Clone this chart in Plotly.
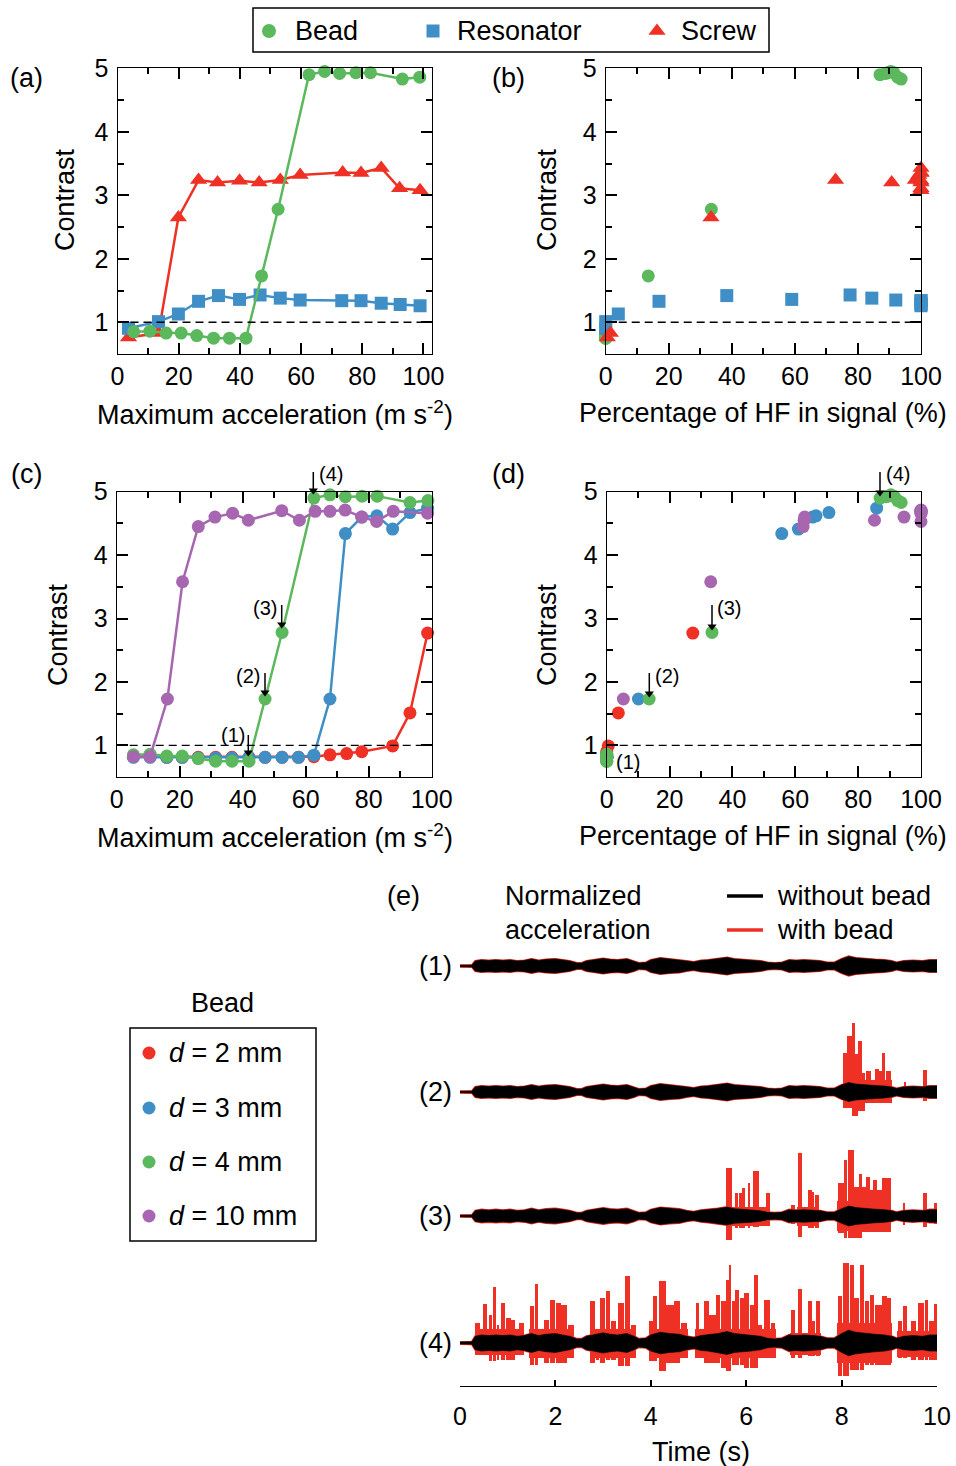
import plotly.graph_objects as go

W, H = 956, 1466
GREEN = "#5cb85c"
BLUE = "#3f8fc6"
RED = "#ee3124"
PURPLE = "#a667b0"
FONT = "Liberation Sans, Arial, Helvetica, sans-serif"

# ---------------- data: panels (a) and (b) ----------------
accel_bead = [5.3, 10.6, 15.9, 20.8, 25.9, 31.4, 36.6, 42.0, 47.1, 52.5, 62.6, 67.7, 72.6, 77.9, 82.7, 93.1, 98.8]
contrast_bead = [0.85, 0.86, 0.83, 0.83, 0.79, 0.75, 0.75, 0.75, 1.73, 2.78, 4.90, 4.95, 4.92, 4.93, 4.93, 4.83, 4.86]
hf_bead = [0, 0, 0, 0, 0, 0, 0, 0, 13.5, 33.5, 87.0, 90.4, 88.8, 89.5, 91.4, 93.7, 92.6]

accel_res = [3.6, 13.4, 19.9, 26.5, 33.0, 39.9, 46.6, 53.2, 59.7, 73.3, 79.6, 86.2, 92.4, 98.9]
contrast_res = [0.905, 1.01, 1.13, 1.33, 1.42, 1.36, 1.43, 1.38, 1.35, 1.34, 1.34, 1.30, 1.28, 1.26]
hf_res = [0, 0, 4.0, 16.9, 38.4, 59.0, 77.5, 84.4, 92.0, 100, 100, 100, 100, 100]

accel_screw = [3.6, 13.4, 19.9, 26.5, 32.7, 39.9, 46.3, 53.2, 59.7, 73.6, 79.6, 86.2, 92.2, 98.9]
contrast_screw = [0.76, 0.83, 2.65, 3.24, 3.20, 3.23, 3.20, 3.24, 3.32, 3.36, 3.35, 3.43, 3.11, 3.08]
hf_screw = [0.5, 1.5, 33.4, 72.9, 90.7, 100, 100, 98.2, 99.3, 100, 100, 100, 100, 100]

# ---------------- data: panels (c) and (d) ----------------
accel_d2 = [5.3, 10.6, 15.9, 20.8, 25.9, 31.4, 36.6, 42.0, 47.1, 52.5, 57.7, 62.6, 67.7, 73.0, 77.8, 87.6, 93.1, 98.7]
contrast_d2 = [0.82, 0.82, 0.81, 0.81, 0.81, 0.81, 0.81, 0.81, 0.81, 0.81, 0.81, 0.82, 0.85, 0.87, 0.90, 0.99, 1.51, 2.77]
hf_d2 = [0, 0, 0, 0, 0, 0, 0, 0, 0, 0, 0, 0, 0, 0, 0, 0.5, 3.7, 27.4]

accel_d3 = [5.3, 10.6, 15.9, 20.8, 25.9, 31.4, 36.6, 42.0, 47.1, 52.5, 57.7, 62.6, 67.7, 72.6, 77.8, 82.6, 87.6, 93.1, 98.7]
contrast_d3 = [0.81, 0.81, 0.81, 0.81, 0.80, 0.80, 0.80, 0.81, 0.81, 0.81, 0.81, 0.845, 1.73, 4.34, 4.60, 4.62, 4.41, 4.67, 4.74]
hf_d3 = [0, 0, 0, 0, 0, 0, 0, 0, 0, 0, 0, 0, 10.1, 55.7, 65.5, 66.6, 61.0, 70.7, 85.9]

accel_d10 = [5.3, 10.6, 16.1, 20.9, 25.9, 31.2, 36.8, 41.8, 52.4, 58.0, 63.0, 67.7, 72.5, 77.8, 82.5, 87.8, 98.7]
contrast_d10 = [0.82, 0.82, 1.73, 3.58, 4.45, 4.60, 4.66, 4.55, 4.70, 4.55, 4.69, 4.69, 4.71, 4.60, 4.53, 4.69, 4.66]
hf_d10 = [0, 0, 5.3, 33.1, 62.5, 63.0, 100, 62.8, 100, 85.2, 100, 100, 100, 94.6, 100, 100, 100]

# ---------------- data: panel (e) (envelopes) ----------------
# black (without bead) half-envelope, row (1) units
env_t = [0, 0.25, 0.32, 0.45, 0.6, 0.75, 0.9, 1.05, 1.2, 1.35, 1.5, 1.65, 1.8, 2.0, 2.15, 2.3, 2.45, 2.55,
         2.65, 2.8, 3.0, 3.15, 3.3, 3.5, 3.65, 3.75, 3.9, 4.0, 4.2, 4.4, 4.6, 4.75, 4.9, 5.05, 5.2, 5.4,
         5.6, 5.75, 5.9, 6.1, 6.3, 6.45, 6.6, 6.75, 6.9, 7.05, 7.2, 7.4, 7.55, 7.7, 7.85, 8.0, 8.15, 8.3,
         8.5, 8.7, 8.9, 9.05, 9.15, 9.3, 9.5, 9.7, 9.85, 10.0]
env_amp = [0.7, 0.9, 5, 6, 5.5, 6, 5.5, 6, 5, 5.5, 7, 5.5, 6.5, 7, 6, 5, 3, 3,
           5, 6, 7.5, 6.5, 6, 7, 5, 3, 3.5, 6, 8, 7, 6.5, 5, 4, 5.5, 6, 7,
           8.5, 7, 6.5, 6, 5, 3.5, 3, 3.5, 6, 5.5, 6, 5.5, 5, 3.5, 3.5, 7, 9.5, 8,
           7, 6.5, 6, 5, 3.5, 5, 5.5, 5, 6, 6]
env_scale = [1.0, 1.0, 1.05, 1.35]
row_labels = ["(1)", "(2)", "(3)", "(4)"]

# red (with bead) active regions: (start s, end s, up, down)
floors_2 = [(8.02, 9.05, 12, 11)]
floors_3 = [(5.58, 6.5, 9, 10), (7.07, 7.53, 9, 10), (7.9, 9.04, 15, 15)]
floors_4 = [(0.32, 1.35, 14, 12), (1.45, 2.4, 14, 15), (2.72, 3.69, 14, 15), (3.96, 4.77, 14, 15),
            (4.93, 6.62, 14, 15), (6.92, 7.56, 10, 12), (7.9, 9.05, 20, 20), (9.17, 10.0, 12, 14)]
# red (with bead) bursts: (start s, end s, up, down)
bursts_2 = [(8.03, 8.11, 39, 16), (8.12, 8.22, 56, 16), (8.22, 8.29, 69, 24), (8.29, 8.34, 38, 24),
            (8.34, 8.43, 51, 19), (8.43, 8.5, 19, 19), (8.52, 8.61, 21, 11), (8.61, 8.7, 8, 11),
            (8.71, 8.78, 23, 11), (8.78, 8.85, 21, 11), (8.85, 8.92, 39, 11), (8.93, 9.04, 21, 11),
            (9.3, 9.36, 10, 6), (9.7, 9.8, 22, 9)]
bursts_3 = [(5.58, 5.71, 48, 24), (5.77, 5.83, 23, 12), (5.84, 5.92, 23, 12),
            (5.92, 5.97, 28, 12), (6.04, 6.09, 33, 12),
            (6.15, 6.26, 45, 11), (6.41, 6.49, 23, 8), (6.93, 7.03, 11, 8),
            (7.08, 7.17, 63, 21), (7.29, 7.37, 26, 12), (7.37, 7.43, 24, 12), (7.45, 7.52, 21, 12),
            (7.92, 8.04, 33, 17), (8.04, 8.12, 56, 22), (8.13, 8.26, 66, 22), (8.26, 8.36, 29, 22),
            (8.36, 8.43, 42, 22), (8.43, 8.52, 29, 16), (8.52, 8.59, 39, 16), (8.59, 8.66, 26, 16),
            (8.66, 8.75, 36, 16), (8.75, 8.84, 26, 16), (8.84, 9.03, 38, 16), (9.28, 9.33, 13, 9),
            (9.7, 9.79, 23, 11), (9.93, 10.0, 13, 8)]
bursts_4 = [(0.32, 0.42, 20, 12), (0.48, 0.57, 39, 12), (0.6, 0.67, 28, 18), (0.69, 0.76, 56, 18),
            (0.78, 0.82, 18, 17), (0.86, 0.94, 40, 17), (0.96, 1.06, 25, 17), (1.07, 1.16, 23, 17),
            (1.23, 1.34, 20, 12), (1.46, 1.55, 37, 22), (1.57, 1.63, 59, 22), (1.77, 1.86, 23, 20),
            (1.88, 2.0, 43, 20), (2.02, 2.11, 40, 20), (2.12, 2.25, 38, 20), (2.26, 2.39, 18, 12),
            (2.73, 2.84, 42, 20), (2.86, 2.92, 12, 17), (2.93, 3.05, 45, 20), (3.06, 3.14, 52, 17),
            (3.17, 3.26, 22, 17), (3.31, 3.43, 40, 23), (3.45, 3.57, 67, 23), (3.59, 3.68, 18, 15),
            (3.97, 4.05, 22, 18), (4.05, 4.13, 47, 18), (4.18, 4.31, 62, 28), (4.32, 4.48, 38, 20),
            (4.49, 4.62, 42, 20), (4.64, 4.75, 20, 15), (4.94, 5.02, 40, 13), (5.11, 5.22, 42, 20),
            (5.23, 5.36, 28, 20), (5.37, 5.46, 48, 20), (5.48, 5.57, 42, 25), (5.58, 5.63, 63, 28),
            (5.63, 5.69, 78, 28), (5.7, 5.77, 42, 22), (5.77, 5.85, 53, 22), (5.86, 5.95, 45, 22),
            (5.96, 6.05, 50, 25), (6.07, 6.16, 38, 25), (6.17, 6.25, 68, 25), (6.25, 6.33, 18, 15),
            (6.37, 6.49, 43, 12), (6.52, 6.61, 20, 12), (6.93, 7.03, 33, 15), (7.08, 7.16, 54, 15),
            (7.29, 7.38, 42, 13), (7.38, 7.44, 22, 13), (7.47, 7.54, 42, 13), (7.92, 8.01, 47, 33),
            (8.03, 8.15, 80, 33), (8.17, 8.26, 78, 27), (8.27, 8.36, 45, 27), (8.38, 8.47, 78, 27),
            (8.48, 8.57, 42, 22), (8.59, 8.68, 48, 22), (8.69, 8.84, 38, 22), (8.84, 8.95, 47, 22),
            (8.96, 9.03, 45, 22), (9.18, 9.27, 22, 15), (9.29, 9.37, 37, 15), (9.46, 9.55, 22, 17),
            (9.6, 9.72, 40, 17), (9.74, 9.81, 43, 17), (9.84, 9.93, 22, 17), (9.93, 10.0, 39, 17)]
red_blocks = [[], floors_2 + bursts_2, floors_3 + bursts_3, floors_4 + bursts_4]

# ---------------- layout helpers ----------------
def hx(p):
    return p / W


def vy(p):
    return 1 - p / H


row_offsets = [0, -126, -250, -377]

fig = go.Figure()

# panel (a)
fig.add_trace(go.Scatter(x=accel_screw, y=contrast_screw, mode="lines+markers", xaxis="x", yaxis="y",
                         line=dict(color=RED, width=2.5), cliponaxis=False,
                         marker=dict(symbol="triangle-up", size=15, color=RED)))
fig.add_trace(go.Scatter(x=accel_res, y=contrast_res, mode="lines+markers", xaxis="x", yaxis="y",
                         line=dict(color=BLUE, width=2.5), cliponaxis=False,
                         marker=dict(symbol="square", size=13, color=BLUE)))
fig.add_trace(go.Scatter(x=accel_bead, y=contrast_bead, mode="lines+markers", xaxis="x", yaxis="y",
                         line=dict(color=GREEN, width=2.5), cliponaxis=False,
                         marker=dict(symbol="circle", size=13, color=GREEN)))
# panel (b)
fig.add_trace(go.Scatter(x=hf_bead, y=contrast_bead, mode="markers", xaxis="x2", yaxis="y2", cliponaxis=False,
                         marker=dict(symbol="circle", size=13, color=GREEN)))
fig.add_trace(go.Scatter(x=hf_res, y=contrast_res, mode="markers", xaxis="x2", yaxis="y2", cliponaxis=False,
                         marker=dict(symbol="square", size=13, color=BLUE)))
fig.add_trace(go.Scatter(x=hf_screw, y=contrast_screw, mode="markers", xaxis="x2", yaxis="y2", cliponaxis=False,
                         marker=dict(symbol="triangle-up", size=15, color=RED)))
# panel (c)
for xs, ys, col in [(accel_d2, contrast_d2, RED), (accel_d3, contrast_d3, BLUE),
                    (accel_bead, contrast_bead, GREEN), (accel_d10, contrast_d10, PURPLE)]:
    fig.add_trace(go.Scatter(x=xs, y=ys, mode="lines+markers", xaxis="x3", yaxis="y3", cliponaxis=False,
                             line=dict(color=col, width=2.5), marker=dict(symbol="circle", size=13, color=col)))
# panel (d)
for xs, ys, col in [(hf_d2, contrast_d2, RED), (hf_d3, contrast_d3, BLUE),
                    (hf_d10, contrast_d10, PURPLE), (hf_bead, contrast_bead, GREEN)]:
    fig.add_trace(go.Scatter(x=xs, y=ys, mode="markers", xaxis="x4", yaxis="y4", cliponaxis=False,
                             marker=dict(symbol="circle", size=13, color=col)))

# panel (e)
for k in range(4):
    off = row_offsets[k]
    s = env_scale[k]
    up = [off + s * a for a in env_amp]
    lo = [off - s * a for a in env_amp]
    poly_x = env_t + env_t[::-1]
    poly_y = up + lo[::-1]
    blocks = red_blocks[k]
    if blocks:
        fig.add_trace(go.Bar(x=[(b[0] + b[1]) / 2 for b in blocks],
                             width=[b[1] - b[0] for b in blocks],
                             base=[off - b[3] for b in blocks],
                             y=[b[2] + b[3] for b in blocks],
                             xaxis="x5", yaxis="y5", marker=dict(color=RED, line=dict(width=0))))
    fig.add_trace(go.Scatter(x=poly_x, y=poly_y, mode="lines", fill="toself", fillcolor=RED,
                             line=dict(color=RED, width=2.2), xaxis="x5", yaxis="y5"))
    fig.add_trace(go.Scatter(x=poly_x, y=poly_y, mode="lines", fill="toself", fillcolor="black",
                             line=dict(color="black", width=0.6), xaxis="x5", yaxis="y5"))

# ---------------- legends and pointer arrows drawn on a pixel overlay ----------------
fig.add_trace(go.Scatter(x=[269], y=[31], mode="markers", xaxis="x6", yaxis="y6", cliponaxis=False,
                         marker=dict(symbol="circle", size=14, color=GREEN)))
fig.add_trace(go.Scatter(x=[433], y=[31], mode="markers", xaxis="x6", yaxis="y6", cliponaxis=False,
                         marker=dict(symbol="square", size=13, color=BLUE)))
fig.add_trace(go.Scatter(x=[657], y=[31], mode="markers", xaxis="x6", yaxis="y6", cliponaxis=False,
                         marker=dict(symbol="triangle-up", size=15, color=RED)))
for yy, col in zip([1053, 1108, 1162, 1216], [RED, BLUE, GREEN, PURPLE]):
    fig.add_trace(go.Scatter(x=[149], y=[yy], mode="markers", xaxis="x6", yaxis="y6", cliponaxis=False,
                             marker=dict(symbol="circle", size=13, color=col)))
fig.add_trace(go.Scatter(x=[727, 763], y=[896, 896], mode="lines", xaxis="x6", yaxis="y6",
                         line=dict(color="black", width=3.5)))
fig.add_trace(go.Scatter(x=[727, 763], y=[930, 930], mode="lines", xaxis="x6", yaxis="y6",
                         line=dict(color=RED, width=3.5)))

# pointer arrows (x, tail y, tip y) in page pixels
arrows = [(248.3, 735, 756), (265, 673, 696), (281.7, 605, 628), (313.3, 472, 494),
          (649.3, 673, 697), (712, 605, 630), (880, 472, 496)]
ax_l, ay_l, hx_l, hy_l = [], [], [], []
for xa, yt, yp in arrows:
    ax_l += [xa, xa, None]
    ay_l += [yt, yp - 5, None]
    hx_l.append(xa)
    hy_l.append(yp - 3.5)
fig.add_trace(go.Scatter(x=ax_l, y=ay_l, mode="lines", xaxis="x6", yaxis="y6", cliponaxis=False,
                         line=dict(color="black", width=1.5)))
fig.add_trace(go.Scatter(x=hx_l, y=hy_l, mode="markers", xaxis="x6", yaxis="y6", cliponaxis=False,
                         marker=dict(symbol="triangle-down", size=8, color="black")))


def frame_axis(dom, rng, dtick, mdtick, standoff, **kw):
    d = dict(domain=dom, range=rng, tickmode="linear", tick0=0, dtick=dtick, ticks="inside", ticklen=11,
             tickwidth=2, tickcolor="black", showline=True, linecolor="black", linewidth=1.3, mirror="ticks",
             showgrid=False, zeroline=False, tickfont=dict(family=FONT, size=25, color="black"),
             automargin=False,
             minor=dict(ticks="inside", ticklen=6, tickwidth=2, tickcolor="black", dtick=mdtick, tick0=0,
                        showgrid=False),
             ticklabelstandoff=standoff)
    d.update(kw)
    return d


ya_dom = [vy(354), vy(68.3)]
yc_dom = [vy(777), vy(491.7)]
layout = dict(
    width=W, height=H, margin=dict(l=0, r=0, t=0, b=0, pad=0, autoexpand=False), showlegend=False,
    autosize=False,
    paper_bgcolor="white", plot_bgcolor="rgba(0,0,0,0)", barmode="overlay", bargap=0,
    font=dict(family=FONT, color="black"),
    xaxis=frame_axis([hx(117.5), hx(431.7)], [0, 102.7], 20, 10, 0, anchor="y"),
    yaxis=frame_axis(ya_dom, [0.5, 5], 1, 0.5, 3, anchor="x"),
    xaxis2=frame_axis([hx(605.7), hx(921)], [0, 100], 20, 10, 0, anchor="y2"),
    yaxis2=frame_axis(ya_dom, [0.5, 5], 1, 0.5, 3, anchor="x2"),
    xaxis3=frame_axis([hx(116.7), hx(431.7)], [0, 100], 20, 10, 0, anchor="y3"),
    yaxis3=frame_axis(yc_dom, [0.5, 5], 1, 0.5, 3, anchor="x3"),
    xaxis4=frame_axis([hx(606.7), hx(921)], [0, 100], 20, 10, 0, anchor="y4"),
    yaxis4=frame_axis(yc_dom, [0.5, 5], 1, 0.5, 3, anchor="x4"),
    xaxis5=dict(domain=[hx(460), hx(937)], range=[0, 10], anchor="y5", tickmode="linear", tick0=0, dtick=2,
                ticks="inside", ticklen=6, tickwidth=2, tickcolor="black", showline=True, linecolor="black",
                linewidth=1.3, showgrid=False, zeroline=False, automargin=False,
                tickfont=dict(family=FONT, size=25, color="black"), ticklabelstandoff=8),
    yaxis5=dict(domain=[vy(1386), vy(880)], range=[-420, 86], anchor="x5", visible=False, automargin=False),
    xaxis6=dict(domain=[0, 1], range=[0, W], anchor="y6", visible=False, automargin=False),
    yaxis6=dict(domain=[0, 1], range=[H, 0], anchor="x6", visible=False, automargin=False),
)
fig.update_layout(**layout)

shapes = []
for xa, ya in [("x", "y"), ("x2", "y2"), ("x3", "y3"), ("x4", "y4")]:
    shapes.append(dict(type="line", xref=xa + " domain", yref=ya, x0=0, x1=1, y0=1, y1=1,
                       line=dict(color="black", width=1.3, dash="8px,5px")))
shapes.append(dict(type="rect", xref="paper", yref="paper", x0=hx(253), x1=hx(769), y0=vy(52), y1=vy(8),
                   line=dict(color="black", width=1.5)))
shapes.append(dict(type="rect", xref="paper", yref="paper", x0=hx(130), x1=hx(316), y0=vy(1241), y1=vy(1028),
                   line=dict(color="black", width=1.5)))
fig.update_layout(shapes=shapes)

ann = []


def text(x, y, s, size=27, xanchor="center", angle=0):
    ann.append(dict(x=hx(x), y=vy(y), xref="paper", yref="paper", text=s, showarrow=False, xanchor=xanchor,
                    yanchor="middle", textangle=angle, font=dict(family=FONT, size=size, color="black")))


xt_a = "Maximum acceleration (m s<sup>-2</sup>)"
xt_b = "Percentage of HF in signal (%)"
text(26, 78, "(a)")
text(508, 78, "(b)")
text(26, 474, "(c)")
text(508, 474, "(d)")
text(403, 896, "(e)")
text(275, 413, xt_a)
text(763, 413, xt_b)
text(275, 836, xt_a)
text(763, 836, xt_b)
text(65, 200, "Contrast", angle=-90)
text(547, 200, "Contrast", angle=-90)
text(58, 635, "Contrast", angle=-90)
text(547, 635, "Contrast", angle=-90)
# legend texts
text(293, 31, "Bead", xanchor="left")
text(455, 31, "Resonator", xanchor="left")
text(679, 31, "Screw", xanchor="left")
text(222, 1003, "Bead")
for yy, dmm in zip([1053, 1108, 1162, 1216], ["2", "3", "4", "10"]):
    text(167, yy, "<i>d</i> = " + dmm + " mm", xanchor="left")
text(503, 896, "Normalized", xanchor="left")
text(503, 930, "acceleration", xanchor="left")
text(775, 896, "without bead", xanchor="left")
text(775, 930, "with bead", xanchor="left")
for k, lab in enumerate(row_labels):
    text(435, 966 - row_offsets[k], lab)
text(701, 1452, "Time (s)")
# labels (1)-(4) in panels (c) and (d)
text(233, 735, "(1)", size=20)
text(248, 676, "(2)", size=20)
text(265, 608, "(3)", size=20)
text(331, 474, "(4)", size=20)
text(628, 762, "(1)", size=20)
text(667, 676, "(2)", size=20)
text(729, 608, "(3)", size=20)
text(898, 474, "(4)", size=20)
fig.update_layout(annotations=ann)

page_fix = ("document.documentElement.style.margin='0';document.body.style.margin='0';"
            "document.documentElement.style.overflow='hidden';document.body.style.overflow='hidden';")
fig.write_html("out.html", post_script=page_fix, config={"displayModeBar": False})
